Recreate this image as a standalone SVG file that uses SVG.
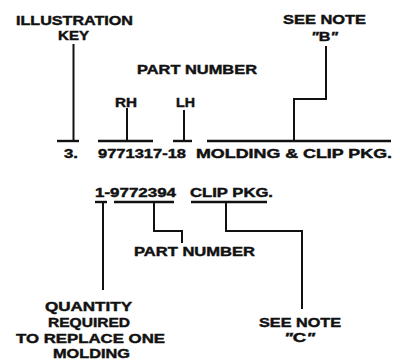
<svg xmlns="http://www.w3.org/2000/svg" width="400" height="362" viewBox="0 0 400 362">
<style>
text{font-family:"Liberation Sans",Arial,sans-serif;font-weight:bold;font-size:13.4px;fill:#111;stroke:#111;stroke-width:0.45}
.q{font-style:italic}
.ln{stroke:#111;stroke-width:2;fill:none;stroke-linecap:square}
.ul{stroke:#111;stroke-width:2.4;fill:none}
</style>
<rect width="400" height="362" fill="#fff"/>
<g id="illustration-key">
<text x="16" y="25" textLength="117" lengthAdjust="spacingAndGlyphs">ILLUSTRATION</text>
<text x="58" y="40" textLength="31" lengthAdjust="spacingAndGlyphs">KEY</text>
</g>
<g id="part-number-top"><text x="137" y="74" textLength="120" lengthAdjust="spacingAndGlyphs">PART NUMBER</text></g>
<g id="rh"><text x="115" y="107" textLength="22" lengthAdjust="spacingAndGlyphs">RH</text></g>
<g id="lh"><text x="176" y="107" textLength="19" lengthAdjust="spacingAndGlyphs">LH</text></g>
<g id="note-b">
<text x="283" y="24" textLength="83" lengthAdjust="spacingAndGlyphs">SEE NOTE</text>
<text x="311" y="41" textLength="27" lengthAdjust="spacingAndGlyphs"><tspan class="q">"</tspan>B<tspan class="q">"</tspan></text>
</g>
<g id="line1">
<text x="64" y="158" textLength="14" lengthAdjust="spacingAndGlyphs">3.</text>
<text x="98" y="158" textLength="88" lengthAdjust="spacingAndGlyphs">9771317-18</text>
<text x="196" y="158" textLength="196" lengthAdjust="spacingAndGlyphs">MOLDING &amp; CLIP PKG.</text>
</g>
<g id="line2">
<text x="95" y="197" textLength="81" lengthAdjust="spacingAndGlyphs">1-9772394</text>
<text x="190" y="197" textLength="83" lengthAdjust="spacingAndGlyphs">CLIP PKG.</text>
</g>
<g id="part-number-bottom"><text x="134" y="256" textLength="121" lengthAdjust="spacingAndGlyphs">PART NUMBER</text></g>
<g id="note-c">
<text x="259" y="327" textLength="82" lengthAdjust="spacingAndGlyphs">SEE NOTE</text>
<text x="284" y="342" textLength="31" lengthAdjust="spacingAndGlyphs"><tspan class="q">"</tspan>C<tspan class="q">"</tspan></text>
</g>
<g id="quantity">
<text x="45" y="311" textLength="87" lengthAdjust="spacingAndGlyphs">QUANTITY</text>
<text x="48" y="327" textLength="82" lengthAdjust="spacingAndGlyphs">REQUIRED</text>
<text x="16" y="343" textLength="149" lengthAdjust="spacingAndGlyphs">TO REPLACE ONE</text>
<text x="53" y="358" textLength="77" lengthAdjust="spacingAndGlyphs">MOLDING</text>
</g>
<g id="connectors">
<line class="ul" x1="57" y1="141" x2="79" y2="141"/>
<line class="ln" x1="73.5" y1="45" x2="73.5" y2="141"/>
<line class="ul" x1="98" y1="141" x2="153" y2="141"/>
<line class="ln" x1="127" y1="109" x2="127" y2="141"/>
<line class="ul" x1="173" y1="141" x2="192" y2="141"/>
<line class="ln" x1="184" y1="111" x2="184" y2="141"/>
<line class="ul" x1="207" y1="141" x2="391" y2="141"/>
<polyline class="ln" points="326,47 326,99 294,99 294,141"/>
<line class="ul" x1="95" y1="202" x2="107" y2="202"/>
<line class="ln" x1="103" y1="202" x2="103" y2="289"/>
<line class="ul" x1="114" y1="202" x2="174" y2="202"/>
<polyline class="ln" points="154,202 154,231 182,231 182,242"/>
<line class="ul" x1="191" y1="202" x2="267" y2="202"/>
<polyline class="ln" points="226,202 226,231 302,231 302,308"/>
</g>
</svg>
